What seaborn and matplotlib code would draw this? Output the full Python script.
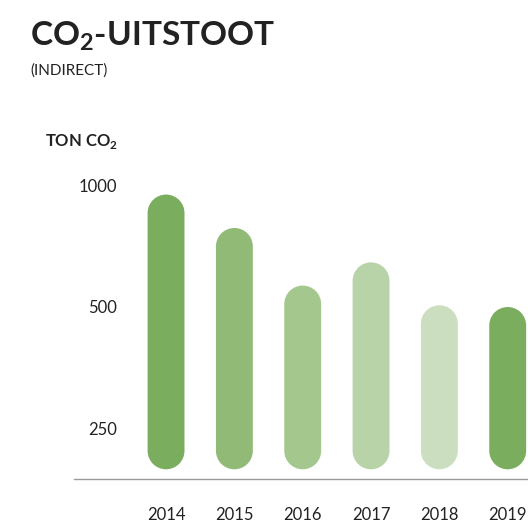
# %% MODULE BEGINS
module_name = 'co2_chart'

'''
Description:
    Pill shaped bar chart of indirect CO2 emissions (log2 y axis)
'''

# %% IMPORTS
from matplotlib import pyplot as plt
from matplotlib.patches import PathPatch
from matplotlib.path import Path
from matplotlib.transforms import Affine2D
import numpy as np
import seaborn as sns
import pandas as pd

# %% DATA
years = ['2014', '2015', '2016', '2017', '2018', '2019']
emissions = [950, 785, 565, 645, 505, 500]
bar_colors = ['#7bad5e', '#91ba77', '#a4c78e', '#b8d3a8', '#cbdfc0', '#7bad5e']
y_ticks = [250, 500, 1000]

# %% CONFIGURATION
sns.set_theme(style='white')
plt.rcParams['font.family'] = ['Lato', 'DejaVu Sans']
plt.rcParams['mathtext.fontset'] = 'custom'
plt.rcParams['mathtext.rm'] = 'Lato'
plt.rcParams['mathtext.bf'] = 'Lato:bold'
text_color = '#222222'


def pill_path(x0, y0, w, h):
    # rounded at both ends, full semicircles
    r = w / 2
    cx = x0 + r
    top = Path.arc(0, 180).transformed(Affine2D().scale(r).translate(cx, y0 + h - r))
    bot = Path.arc(180, 360).transformed(Affine2D().scale(r).translate(cx, y0 + r))
    verts = np.concatenate([top.vertices, bot.vertices, [top.vertices[0]]])
    bot_codes = bot.codes.copy()
    bot_codes[0] = Path.LINETO
    codes = np.concatenate([top.codes, bot_codes, [Path.CLOSEPOLY]])
    return Path(verts, codes)


def main():
    df = pd.DataFrame({'year': years, 'ton': emissions})

    fig = plt.figure(figsize=(5.28, 5.22), dpi=100)
    ax = fig.add_axes([74 / 528, 1 - 479.3 / 522, 1 - 74 / 528, (479.3 - 150) / 522])

    sns.barplot(data=df, x='year', y='ton', hue='year', palette=bar_colors,
                width=0.54, saturation=1, legend=False, ax=ax)

    ax.set_yscale('log', base=2)
    ax.set_ylim(187, 1225)
    ax.set_xlim(-1.347, 5.297)
    ax.set_yticks(y_ticks)
    ax.set_yticklabels([str(t) for t in y_ticks])
    ax.minorticks_off()

    # turn the plain bars into pills, drawn in pixel space
    fig.canvas.draw()
    base_px = ax.transData.transform((0, 187))[1] + 10
    for patch in list(ax.patches):
        x0 = patch.get_x()
        w = patch.get_width()
        top = patch.get_height()
        color = patch.get_facecolor()
        (px0, py_top) = ax.transData.transform((x0, top))
        (px1, _) = ax.transData.transform((x0 + w, top))
        pill = PathPatch(pill_path(px0, base_px, px1 - px0, py_top - base_px),
                         facecolor=color, edgecolor='none',
                         transform=None, clip_on=False)
        patch.remove()
        fig.add_artist(pill)

    # axes styling
    sns.despine(ax=ax, left=True, top=True, right=True)
    ax.spines['bottom'].set_color('#9a9a9a')
    ax.spines['bottom'].set_linewidth(1.0)
    ax.set_xlabel('')
    ax.set_ylabel('')
    ax.tick_params(axis='x', length=0, pad=20, labelsize=12, labelcolor=text_color)
    ax.tick_params(axis='y', length=0, pad=-31, labelsize=12, labelcolor=text_color)
    ax.grid(False)

    # titles
    fig.text(30 / 528, 1 - 45 / 522, r'CO$_\mathbf{2}$-UITSTOOT', fontsize=24,
             fontweight='bold', color=text_color, va='baseline', ha='left')
    fig.text(30 / 528, 1 - 75 / 522, '(INDIRECT)', fontsize=11,
             color=text_color, va='baseline', ha='left')
    fig.text(45 / 528, 1 - 146 / 522, r'TON CO$_\mathbf{2}$', fontsize=12,
             fontweight='bold', color=text_color, va='baseline', ha='left')

    fig.savefig('out.png', dpi=100)
    plt.close(fig)


# %% SELF-RUN
if __name__ == "__main__":
    main()
